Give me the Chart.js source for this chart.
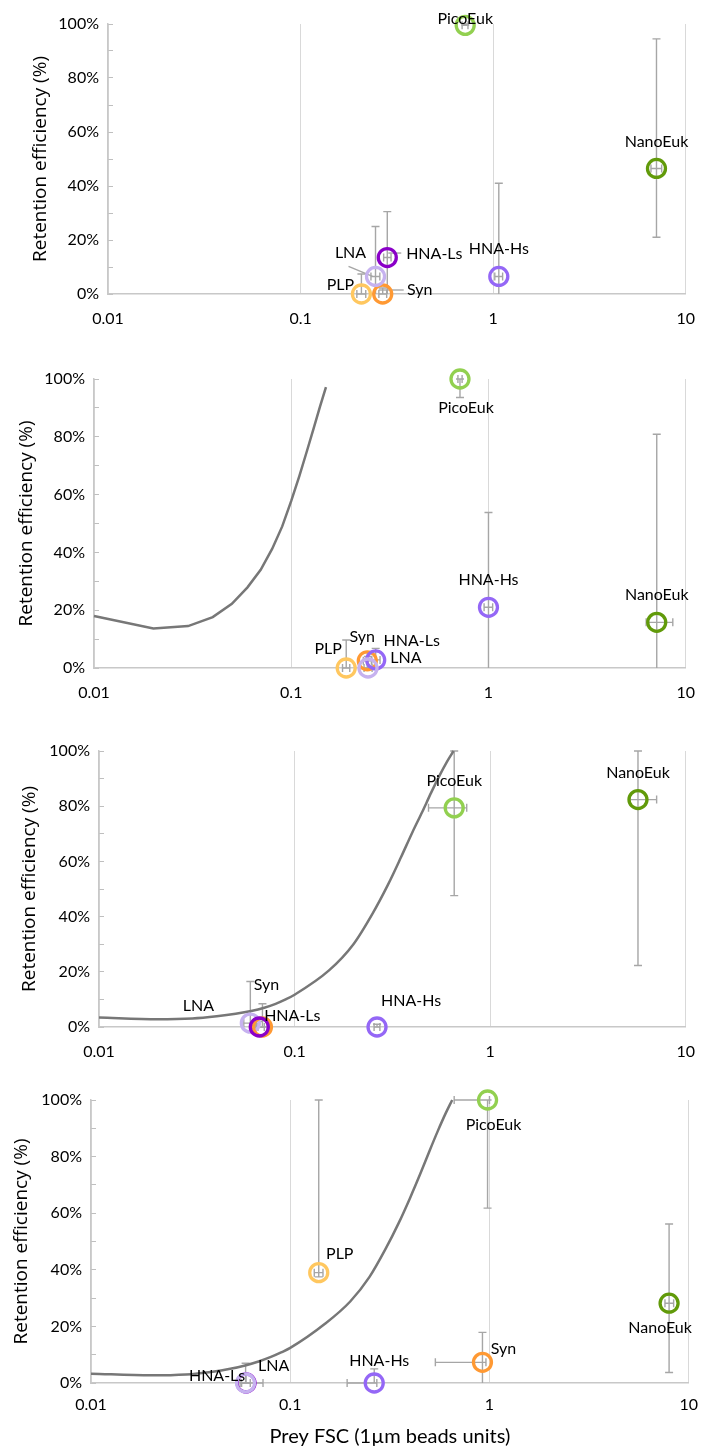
<!DOCTYPE html>
<html>
<head>
<meta charset="utf-8">
<script src="https://cdn.jsdelivr.net/npm/chart.js@4.4.1/dist/chart.umd.min.js"></script>
<style>
  html, body { margin: 0; padding: 0; background: #fff; }
  #wrap { position: relative; width: 710px; height: 1451px; }
  .panel { position: absolute; left: 0; width: 710px; }
  .panel canvas { display: block; }
</style>
</head>
<body>
<div id="wrap">
  <div class="panel" style="top:0px"><canvas id="c1" width="710" height="330"></canvas></div>
  <div class="panel" style="top:330px"><canvas id="c2" width="710" height="370"></canvas></div>
  <div class="panel" style="top:700px"><canvas id="c3" width="710" height="360"></canvas></div>
  <div class="panel" style="top:1060px"><canvas id="c4" width="710" height="391"></canvas></div>
</div>
<script>
// Retention efficiency vs prey size, four panels

const xTickValues = [0.01, 0.1, 1, 10];
const yTitle = 'Retention efficiency (%)';
const xTitle = 'Prey FSC (1µm beads units)';

// Panel 1
const p1Names = ['PLP', 'Syn', 'LNA', 'HNA-Ls', 'HNA-Hs', 'PicoEuk', 'NanoEuk'];
const p1X   = [0.207, 0.267, 0.245, 0.282, 1.07, 0.716, 7.05];
const p1Y   = [0, 0, 6.5, 13.5, 6.5, 99.5, 46.5];
const p1YLo = [0, 0, 0, 0, 0, 99.5, 21];
const p1YHi = [7.4, 2.2, 25, 30.5, 41, 100, 94.5];
const p1XLo = [0.196, 0.255, 0.232, 0.27, 1.02, 0.69, 6.6];
const p1XHi = [0.218, 0.28, 0.258, 0.295, 1.12, 0.74, 7.5];

// Panel 2
const p2Names = ['PLP', 'Syn', 'HNA-Ls', 'LNA', 'HNA-Hs', 'PicoEuk', 'NanoEuk'];
const p2X   = [0.19, 0.243, 0.268, 0.245, 1.0, 0.717, 7.13];
const p2Y   = [0, 2.5, 2.8, 0, 21, 100, 15.8];
const p2YLo = [0, 0, 0, 0, 0, 93.6, 0];
const p2YHi = [9.7, 5.6, 6.8, 4, 53.8, 100, 80.9];
const p2XLo = [0.182, 0.232, 0.256, 0.234, 0.95, 0.70, 6.3];
const p2XHi = [0.198, 0.255, 0.282, 0.257, 1.05, 0.735, 8.6];
const p2CurveX = [0.01, 0.02, 0.03, 0.04, 0.05, 0.06, 0.07, 0.08, 0.09, 0.1, 0.11, 0.12, 0.13, 0.14, 0.15];
const p2CurveY = [18, 13.7, 14.5, 17.6, 22.2, 27.9, 34, 41.2, 49, 57.8, 66.5, 75, 83, 90.5, 97.2];

// Panel 3
const p3Names = ['LNA', 'Syn', 'HNA-Ls', 'HNA-Hs', 'PicoEuk', 'NanoEuk'];
const p3X   = [0.0594, 0.0685, 0.066, 0.264, 0.655, 5.7];
const p3Y   = [1.4, 0, 0, 0, 79.4, 82.4];
const p3YLo = [0, 0, 0, 0, 47.6, 22.3];
const p3YHi = [16.5, 8.4, 2, 1, 100, 100];
const p3XLo = [0.055, 0.065, 0.063, 0.255, 0.484, 5.2];
const p3XHi = [0.064, 0.075, 0.07, 0.273, 0.759, 7.1];
const p3CurveX = [0.01, 0.02, 0.03, 0.04, 0.05, 0.06, 0.07, 0.08, 0.09, 0.1, 0.15, 0.2, 0.25, 0.3, 0.35, 0.4, 0.45, 0.5, 0.55, 0.6, 0.65];
const p3CurveY = [3.4, 2.8, 3.1, 3.9, 4.8, 5.8, 7, 8.4, 10, 11.7, 20.5, 30, 41, 51.5, 61.5, 70.5, 78, 85, 91, 96, 100];

// Panel 4
const p4Names = ['HNA-Ls', 'LNA', 'HNA-Hs', 'Syn', 'PLP', 'PicoEuk', 'NanoEuk'];
const p4X   = [0.06, 0.0597, 0.264, 0.922, 0.139, 0.978, 7.97];
const p4Y   = [0, 0, 0, 7.3, 39, 100, 28.2];
const p4YLo = [0, 0, 0, 0, 37.5, 61.8, 3.7];
const p4YHi = [3, 7, 5, 17.9, 100, 100, 56.2];
const p4XLo = [0.057, 0.056, 0.193, 0.535, 0.132, 0.665, 7.6];
const p4XHi = [0.063, 0.073, 0.272, 0.96, 0.146, 1.0, 8.4];
const p4CurveX = [0.01, 0.02, 0.03, 0.04, 0.05, 0.06, 0.07, 0.08, 0.09, 0.1, 0.15, 0.2, 0.25, 0.3, 0.35, 0.4, 0.45, 0.5, 0.55, 0.6, 0.65];
const p4CurveY = [3.3, 2.7, 3.0, 3.9, 5.0, 6.3, 7.7, 9.2, 10.8, 12.4, 21, 28.8, 37.5, 47.2, 56.5, 65.5, 74, 82, 89, 95, 100];

// Colours per prey group
const groupColors = {
    'PLP': '#ffc75f',
    'Syn': '#ff9933',
    'HNA-Ls': '#8a00c8',
    'LNA': '#c6b2ef',
    'HNA-Hs': '#9467f6',
    'PicoEuk': '#92d050',
    'NanoEuk': '#619a0a'
};
// in panel 2 the HNA-Ls ring is drawn in the lighter violet
const p2ColorOverride = { 'HNA-Ls': '#9467f6' };

// Label offsets (pixels from the marker), same order as names
const p1LabelPos = [[-21, -9], [37, -4], [-25, -24], [47, -4], [0, -28], [0, -7], [0, -27]];
const p2LabelPos = [[-18, -19], [-5, -24], [36, -19], [38, -10], [0, -27], [6, 29], [0, -27]];
const p3LabelPos = [[-52, -17], [4, -42], [33, -11], [34, -26], [0, -27], [0, -27]];
const p4LabelPos = [[-29, -7], [28, -17], [5, -22], [21, -13], [21, -19], [6, 25], [-9, 25]];
// Leader lines in panel 1: [index, x1, y1, x2, y2] relative to marker
const p1Leaders = [[1, -4, -4, 21, -4], [2, -27, -10, -3, 0], [3, 1, -4.5, 14, -4.5]];

const panels = [
    { id: 'c1', top: 0, height: 330, plotLeft: 108, plotTop: 24, plotBottom: 294, titleX: 41,
      names: p1Names, x: p1X, y: p1Y, yLo: p1YLo, yHi: p1YHi, xLo: p1XLo, xHi: p1XHi,
      labels: p1LabelPos, leaders: p1Leaders },
    { id: 'c2', top: 330, height: 370, plotLeft: 94, plotTop: 379, plotBottom: 668, titleX: 27,
      names: p2Names, x: p2X, y: p2Y, yLo: p2YLo, yHi: p2YHi, xLo: p2XLo, xHi: p2XHi,
      labels: p2LabelPos, curveX: p2CurveX, curveY: p2CurveY, curveSmooth: false,
      colorOverride: p2ColorOverride },
    { id: 'c3', top: 700, height: 360, plotLeft: 99, plotTop: 751, plotBottom: 1027, titleX: 29.5,
      names: p3Names, x: p3X, y: p3Y, yLo: p3YLo, yHi: p3YHi, xLo: p3XLo, xHi: p3XHi,
      labels: p3LabelPos, curveX: p3CurveX, curveY: p3CurveY, curveSmooth: true },
    { id: 'c4', top: 1060, height: 391, plotLeft: 91, plotTop: 1100, plotBottom: 1383, titleX: 21.7,
      names: p4Names, x: p4X, y: p4Y, yLo: p4YLo, yHi: p4YHi, xLo: p4XLo, xHi: p4XHi,
      labels: p4LabelPos, curveX: p4CurveX, curveY: p4CurveY, curveSmooth: true, xTitle: true }
];

// Error bars under the markers, labels on top
function makeOverlay(p) {
    return {
        id: 'overlay_' + p.id,
        beforeDatasetsDraw(chart) {
            const { ctx } = chart;
            const sx = chart.scales.x, sy = chart.scales.y;
            const cap = 4;
            ctx.save();
            ctx.strokeStyle = '#a6a6a6';
            ctx.lineWidth = 1.4;
            p.x.forEach((xv, i) => {
                const px = sx.getPixelForValue(xv);
                const py = sy.getPixelForValue(p.y[i]);
                const y1 = sy.getPixelForValue(p.yLo[i]);
                const y2 = sy.getPixelForValue(p.yHi[i]);
                const x1 = sx.getPixelForValue(p.xLo[i]);
                const x2 = sx.getPixelForValue(p.xHi[i]);
                ctx.beginPath();
                ctx.moveTo(px, y1); ctx.lineTo(px, y2);
                ctx.moveTo(px - cap, y2); ctx.lineTo(px + cap, y2);
                if (p.yLo[i] > 0) { ctx.moveTo(px - cap, y1); ctx.lineTo(px + cap, y1); }
                ctx.moveTo(x1, py); ctx.lineTo(x2, py);
                ctx.moveTo(x1, py - cap); ctx.lineTo(x1, py + cap);
                ctx.moveTo(x2, py - cap); ctx.lineTo(x2, py + cap);
                ctx.stroke();
            });
            (p.leaders || []).forEach(l => {
                const px = sx.getPixelForValue(p.x[l[0]]);
                const py = sy.getPixelForValue(p.y[l[0]]);
                ctx.beginPath();
                ctx.moveTo(px + l[1], py + l[2]);
                ctx.lineTo(px + l[3], py + l[4]);
                ctx.stroke();
            });
            ctx.restore();
        },
        afterDatasetsDraw(chart) {
            const { ctx } = chart;
            const sx = chart.scales.x, sy = chart.scales.y;
            ctx.save();
            ctx.font = '16px Lato';
            ctx.fillStyle = '#000';
            ctx.textAlign = 'center';
            ctx.textBaseline = 'middle';
            p.names.forEach((name, i) => {
                const px = sx.getPixelForValue(p.x[i]);
                const py = sy.getPixelForValue(p.y[i]);
                const off = p.labels[i];
                ctx.fillText(name, px + off[0], py + off[1]);
            });
            ctx.restore();
        }
    };
}

function buildChart(p) {
    const canvas = document.getElementById(p.id);
    const override = p.colorOverride || {};
    const datasets = [{
        label: 'groups',
        data: p.x.map((xv, i) => ({ x: xv, y: p.y[i] })),
        showLine: false,
        pointRadius: 9,
        pointHoverRadius: 9,
        pointBorderWidth: 3.3,
        pointBackgroundColor: 'rgba(255,255,255,0)',
        pointBorderColor: p.names.map(n => override[n] || groupColors[n]),
        clip: false
    }];
    if (p.curveX) {
        datasets.push({
            label: 'model',
            data: p.curveX.map((xv, i) => ({ x: xv, y: p.curveY[i] })),
            showLine: true,
            pointRadius: 0,
            borderColor: '#777777',
            borderWidth: 2.5,
            cubicInterpolationMode: p.curveSmooth ? 'monotone' : 'default',
            tension: 0,
            clip: false
        });
    }

    new Chart(canvas, {
        type: 'scatter',
        data: { datasets: datasets },
        plugins: [makeOverlay(p)],
        options: {
            responsive: false,
            animation: false,
            events: [],
            layout: { padding: { top: p.plotTop - p.top, right: 10, left: 0, bottom: 0 } },
            plugins: { legend: { display: false }, tooltip: { enabled: false } },
            scales: {
                x: {
                    type: 'logarithmic',
                    min: 0.01,
                    max: 10,
                    afterBuildTicks: s => { s.ticks = xTickValues.map(v => ({ value: v })); },
                    afterFit: s => { s.height = p.height - (p.plotBottom - p.top); },
                    ticks: {
                        autoSkip: false,
                        maxRotation: 0,
                        padding: p.xTitle ? 12 : 15,
                        color: '#000',
                        font: { family: 'Lato', size: 16 },
                        callback: v => String(v)
                    },
                    grid: { color: '#d9d9d9', lineWidth: 1, drawTicks: false },
                    border: { color: '#c8c8c8', width: 1.5 },
                    title: {
                        display: !!p.xTitle,
                        text: xTitle,
                        color: '#000',
                        font: { family: 'Lato', size: 20 },
                        padding: { top: 0, bottom: 2 }
                    }
                },
                y: {
                    min: 0,
                    max: 100,
                    afterFit: s => { s.width = p.plotLeft; },
                    ticks: {
                        stepSize: 10,
                        padding: 14,
                        color: '#000',
                        font: { family: 'Lato', size: 16 },
                        callback: v => (v % 20 === 0 ? v + '%' : '')
                    },
                    grid: { drawOnChartArea: false, tickLength: -5, color: '#bfbfbf', lineWidth: 1 },
                    border: { color: '#c8c8c8', width: 1.5 },
                    title: {
                        display: true,
                        text: yTitle,
                        color: '#000',
                        font: { family: 'Open Sans', size: 19 },
                        padding: { top: p.titleX - 11.4, bottom: 0 }
                    }
                }
            }
        }
    });
}

function init() {
    panels.forEach(buildChart);
}

Promise.all([
    document.fonts.load('16px Lato'),
    document.fonts.load('19px "Open Sans"')
]).then(init, init);
</script>
</body>
</html>
